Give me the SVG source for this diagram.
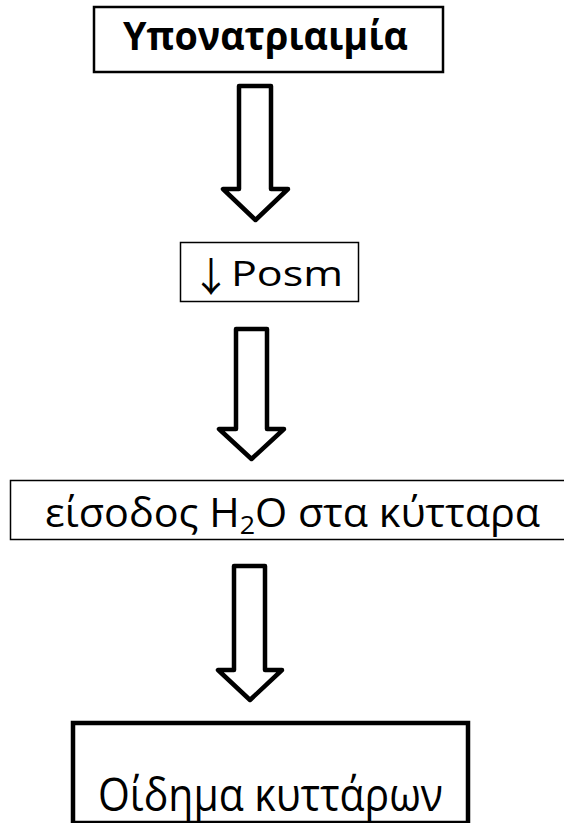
<svg xmlns="http://www.w3.org/2000/svg" width="564" height="823" viewBox="0 0 564 823">
  <style>
    .box { fill: #ffffff; stroke: #000000; }
    .lbl { font-family: "Open Sans", "Noto Sans", "DejaVu Sans", sans-serif; fill: #000000; }
    .sym { font-family: "Noto Sans CJK JP", "DejaVu Sans", sans-serif; fill: #000000; }
    .arrow { fill: #ffffff; stroke: #000000; stroke-width: 4.5; stroke-linejoin: round; }
  </style>
  <rect width="564" height="823" fill="#ffffff"/>

  <!-- block arrows between the steps -->
  <g id="connectors">
    <path class="arrow" d="M239,86 H271 V189 H288 L255.5,220 L223,189 H239 Z"/>
    <path class="arrow" d="M236,329 H267 V429 H284 L251.5,459 L219,429 H236 Z"/>
    <path class="arrow" d="M234,566 H265 V670 H282 L250,700 L218,670 H234 Z"/>
  </g>

  <g id="node-hyponatremia">
    <rect class="box" x="94" y="7" width="349" height="65" stroke-width="2.5"/>
    <text class="lbl" x="123" y="50" font-size="40" font-weight="bold" textLength="285" lengthAdjust="spacingAndGlyphs">Υπονατριαιμία</text>
  </g>

  <g id="node-posm">
    <rect class="box" x="180.5" y="242.5" width="178" height="59" stroke-width="1.5"/>
    <text class="sym" x="191" y="291" font-size="40">↓</text>
    <text class="lbl" x="231" y="286" font-size="35" textLength="112" lengthAdjust="spacingAndGlyphs">Posm</text>
  </g>

  <g id="node-water-entry">
    <rect class="box" x="10.5" y="480.5" width="570" height="59" stroke-width="1.5"/>
    <text class="lbl" x="45" y="527" font-size="40" textLength="495" lengthAdjust="spacingAndGlyphs">είσοδος H<tspan font-size="26" dy="7">2</tspan><tspan dy="-7">O στα κύτταρα</tspan></text>
  </g>

  <g id="node-cell-edema">
    <rect class="box" x="73" y="723" width="395" height="100" stroke-width="4.5"/>
    <text class="lbl" x="98" y="811" font-size="46" textLength="345" lengthAdjust="spacingAndGlyphs">Οίδημα κυττάρων</text>
  </g>
</svg>
